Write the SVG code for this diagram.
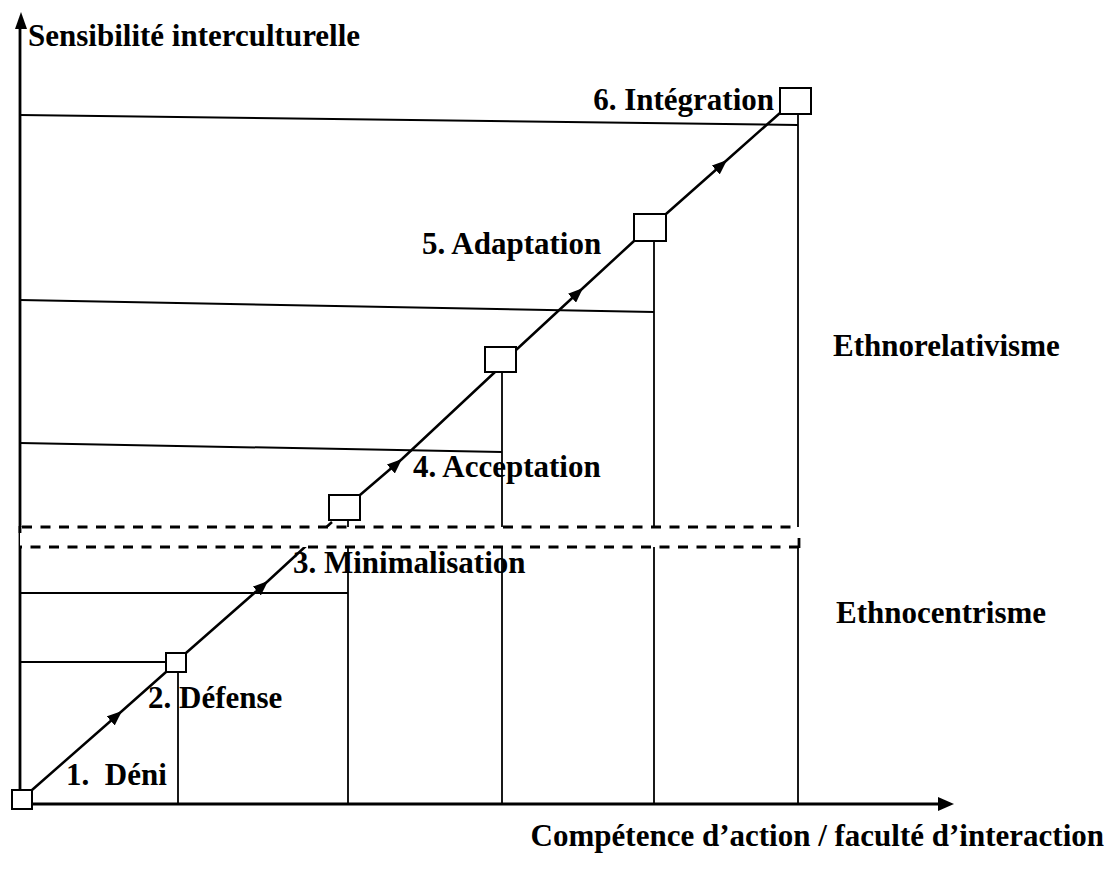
<svg xmlns="http://www.w3.org/2000/svg" width="1116" height="872" viewBox="0 0 1116 872">
<style>
text{font-family:"Liberation Serif","Times New Roman",serif;font-weight:bold;font-size:31px;fill:#000}
.h{stroke:#000;stroke-width:2;fill:none}
.v{stroke:#000;stroke-width:1.8;fill:none}
.ax{stroke:#000;stroke-width:2.8;fill:none}
.d{stroke:#000;stroke-width:2.5;fill:none;marker-mid:url(#arr)}
.dash{stroke:#000;stroke-width:3;stroke-dasharray:10 8.5;fill:none}
.box{fill:#fff;stroke:#000;stroke-width:2}
</style>
<defs>
<marker id="arr" viewBox="0 0 15 12" refX="15" refY="6" markerWidth="15" markerHeight="12" markerUnits="userSpaceOnUse" orient="auto">
<path d="M0,0 L15,6 L0,12 Z" fill="#000"/>
</marker>
</defs>
<g id="grid">
<line class="h" x1="20" y1="115" x2="798" y2="125"/>
<line class="h" x1="20" y1="300" x2="654" y2="312"/>
<line class="h" x1="20" y1="443" x2="502" y2="452"/>
<line class="h" x1="20" y1="593" x2="348" y2="593"/>
<line class="h" x1="20" y1="662" x2="166" y2="662"/>
<line class="v" x1="178" y1="672" x2="178" y2="803"/>
<line class="v" x1="348" y1="520" x2="348" y2="803"/>
<line class="v" x1="502" y1="372" x2="502" y2="803"/>
<line class="v" x1="654" y1="241" x2="654" y2="803"/>
<line class="v" x1="798" y1="114" x2="798" y2="803"/>
</g>
<g id="axes">
<line class="ax" x1="20" y1="803" x2="20" y2="26"/>
<path d="M21,12 L27,29 L15,29 Z" fill="#000"/>
<line class="ax" x1="20" y1="804" x2="940" y2="804"/>
<path d="M954,804 L938,797 L938,811 Z" fill="#000"/>
</g>
<g id="connectors">
<path class="d" d="M32,790 L122,711 L166,672"/>
<path class="d" d="M186,653 L268,581 L332,522"/>
<path class="d" d="M360,495 L402,459 L495,372"/>
<path class="d" d="M516,350 L583,288 L634,241"/>
<path class="d" d="M666,214 L727,160 L780,113"/>
</g>
<g id="band">
<rect x="20" y="527" width="779" height="20" fill="#fff"/>
<line class="dash" x1="20" y1="527" x2="799" y2="527" stroke-dashoffset="-2"/>
<line class="dash" x1="20" y1="547" x2="799" y2="547" stroke-dashoffset="8"/>
<line class="ax" x1="20" y1="526" x2="20" y2="533"/>
<line class="ax" x1="799" y1="538" x2="799" y2="548"/>
</g>
<g id="n0"><rect class="box" x="12" y="790" width="20" height="19"/></g>
<g id="n2"><rect class="box" x="166" y="653" width="20" height="19"/><text x="148" y="708">2. Défense</text></g>
<g id="n1"><text x="66" y="785" xml:space="preserve">1.  Déni</text></g>
<g id="n3"><rect class="box" x="329" y="495" width="31" height="25"/><text x="293" y="573">3. Minimalisation</text></g>
<g id="n4"><rect class="box" x="485" y="347" width="31" height="25"/><text x="413" y="477">4. Acceptation</text></g>
<g id="n5"><rect class="box" x="634" y="214" width="32" height="27"/><text x="422" y="254">5. Adaptation</text></g>
<g id="n6"><rect class="box" x="780" y="88" width="31" height="26"/><text x="774" y="110" text-anchor="end">6. Intégration</text></g>
<g id="labels">
<text x="28" y="46">Sensibilité interculturelle</text>
<text x="833" y="356">Ethnorelativisme</text>
<text x="836" y="623">Ethnocentrisme</text>
<text x="1104" y="846" text-anchor="end">Compétence d’action / faculté d’interaction</text>
</g>
</svg>
